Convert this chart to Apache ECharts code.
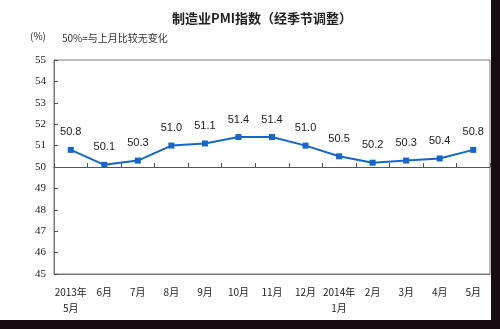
<!DOCTYPE html>
<html><head><meta charset="utf-8">
<script src="https://cdn.jsdelivr.net/npm/echarts@6/dist/echarts.min.js"></script>
<style>
html,body{margin:0;padding:0;background:#150d12;width:500px;height:329px;overflow:hidden;}
#c{width:491px;height:320px;background:#ffffff;}
</style></head>
<body><div id="c"></div>
<script>
const categories = ['2013年\n5月','6月','7月','8月','9月','10月','11月','12月','2014年\n1月','2月','3月','4月','5月'];
const pmiValues = [50.8, 50.1, 50.3, 51.0, 51.1, 51.4, 51.4, 51.0, 50.5, 50.2, 50.3, 50.4, 50.8];
const yMin = 45, yMax = 55, yStep = 1, baseline = 50;
const titleText = '制造业PMI指数（经季节调整）';
const unitText = '(%)';
const noteText = '50%=与上月比较无变化';

const chart = echarts.init(document.getElementById('c'), null, {renderer:'canvas'});
const gridTop = 60, gridH = 214;
chart.setOption({
  animation:false,
  backgroundColor:'#ffffff',
  title:{text:titleText,left:257,top:7,textAlign:'center',
    textStyle:{fontFamily:'Noto Sans CJK SC',fontSize:13,fontWeight:'bold',color:'#222'}},
  graphic:[
    {type:'text',left:30,top:31,style:{text:unitText,font:'10px "Noto Sans CJK SC"',fill:'#333'}},
    {type:'text',left:62,top:33,style:{text:noteText,font:'10px "Noto Sans CJK SC"',fill:'#333'}}
  ],
  grid:{left:54,top:gridTop,width:436,height:gridH,show:true,borderColor:'#777',borderWidth:1,backgroundColor:'transparent'},
  xAxis:[
    {type:'category',data:categories,boundaryGap:true,
     axisLine:{show:true,lineStyle:{color:'#777',width:1}},
     axisTick:{show:false},
     axisLabel:{interval:0,margin:10,fontFamily:'Noto Sans CJK SC',fontSize:10,color:'#222',lineHeight:16}},
    {type:'category',data:categories,boundaryGap:true,position:'bottom',
     offset:-(gridH*(baseline-yMin)/(yMax-yMin)),
     axisLine:{show:true,lineStyle:{color:'#555',width:1}},
     axisTick:{show:true,inside:true,length:4,interval:0,lineStyle:{color:'#555'}},
     axisLabel:{show:false}}
  ],
  yAxis:{type:'value',min:yMin,max:yMax,interval:yStep,
    axisLine:{show:true,lineStyle:{color:'#777'}},
    axisTick:{show:true,inside:true,length:4,lineStyle:{color:'#555'}},
    splitLine:{show:false},
    axisLabel:{margin:8,fontFamily:'"Liberation Serif", "DejaVu Serif", serif',fontSize:11,color:'#222'}},
  series:[{
    type:'line',data:pmiValues,xAxisIndex:0,
    symbol:'rect',symbolSize:6,
    lineStyle:{color:'#1565cf',width:2},
    itemStyle:{color:'#1565cf'},
    label:{show:true,position:'top',distance:9,
      formatter:p=>p.value.toFixed(1),
      fontFamily:'Liberation Sans',fontSize:11,color:'#222'}
  }]
});
</script></body></html>
